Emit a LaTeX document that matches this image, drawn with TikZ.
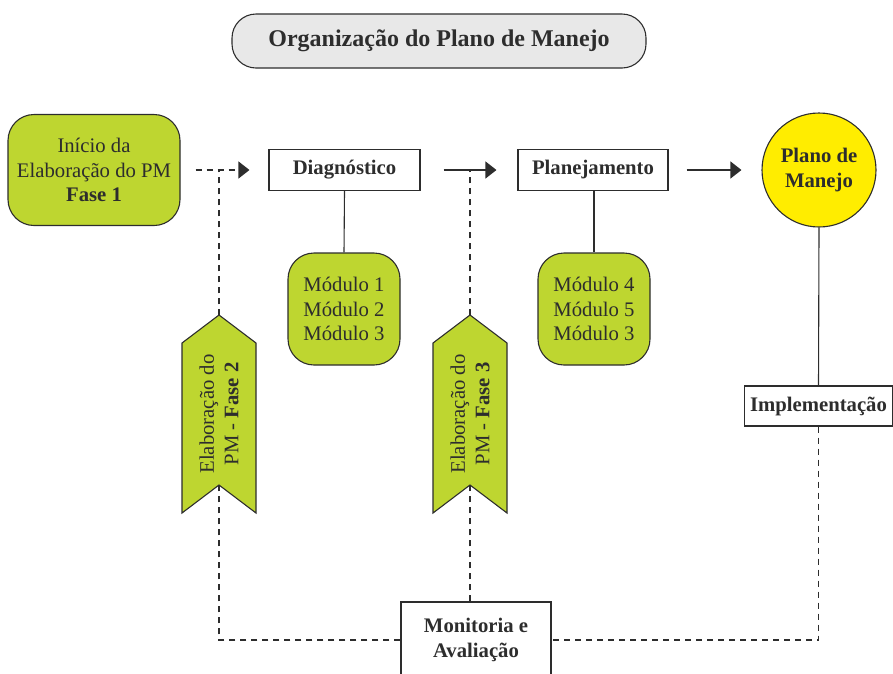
\documentclass[tikz,border=0pt]{standalone}
\usepackage{fontspec}
\setmainfont{Liberation Serif}
\usetikzlibrary{arrows.meta}
\definecolor{leaf}{RGB}{190,214,48}
\definecolor{sun}{RGB}{255,237,0}
\definecolor{titlegray}{RGB}{232,232,232}
\definecolor{edge}{RGB}{45,45,45}
\tikzset{
  txt/.style={font=\fontsize{20.7}{24.5}\selectfont, text=edge, align=center, inner sep=0pt},
  titlebox/.style={draw=edge, line width=1.1pt, fill=titlegray, rounded corners=24pt, minimum width=414pt, minimum height=54pt, font=\fontsize{24}{28}\selectfont\bfseries, text=edge, inner sep=0pt},
  greenbox/.style={txt, draw=edge, line width=1.1pt, fill=leaf, rounded corners=26pt},
  whitebox/.style={txt, draw=edge, line width=1.1pt, fill=white, font=\fontsize{20.7}{24.5}\selectfont\bfseries},
  chevron/.style={draw=edge, line width=1.1pt, fill=leaf},
  link/.style={draw=edge, line width=1.1pt},
  dashlink/.style={draw=edge, line width=1.1pt, dash pattern=on 6pt off 5pt},
  tip/.style={-{Triangle[length=11pt,width=17pt]}}
}
\begin{document}
\begin{tikzpicture}[x=1pt,y=-1pt]
\useasboundingbox (0,0) rectangle (893,673);
% nodes
\node[titlebox] (title) at (439,41) {Organização do Plano de Manejo};
\node[greenbox, minimum width=172pt, minimum height=111pt] (fase1) at (94,170) {Início da\\Elaboração do PM\\\textbf{Fase 1}};
\node[whitebox, minimum width=151pt, minimum height=41pt] (diag) at (344.5,170) {Diagnóstico};
\node[whitebox, minimum width=150pt, minimum height=41pt] (plan) at (593,170) {Planejamento};
\node[circle, draw=edge, line width=1.1pt, fill=sun, minimum size=114pt, inner sep=0pt, txt, font=\fontsize{20.7}{24.5}\selectfont\bfseries] (pm) at (819,170) {Plano de\\Manejo};
\node[greenbox, minimum width=112pt, minimum height=112pt] (mod1) at (344,309) {Módulo 1\\Módulo 2\\Módulo 3};
\node[greenbox, minimum width=112pt, minimum height=112pt] (mod2) at (594,309) {Módulo 4\\Módulo 5\\Módulo 3};
\node[whitebox, minimum width=148pt, minimum height=40pt] (impl) at (818.5,406) {Implementação};
\node[whitebox, minimum width=150pt, minimum height=76pt] (monit) at (476,640) {Monitoria e\\Avaliação};
% junction points
\coordinate (j2) at (219,170);
\coordinate (j3) at (470,170);
% connectors
\draw[dashlink] (monit.west) -| (j2);
\draw[dashlink] (monit.north -| j3) -- (j3);
\draw[dashlink] (impl.south) |- (monit.east);
\draw[dashlink, tip, shorten <=15pt, shorten >=19pt] (fase1.east) -- (diag.west);
\draw[link, tip, shorten <=23pt, shorten >=21pt] (diag.east) -- (plan.west);
\draw[link, tip, shorten <=18pt, shorten >=20pt] (plan.east) -- (pm.west);
\draw[link] (diag.south) -- (mod1.north);
\draw[link] (plan.south -| mod2.north) -- (mod2.north);
\draw[link] (pm.south) -- (impl.north);
% chevrons
\draw[chevron] (182,343) -- (219,315) -- (256,343) -- (256,513) -- (219,485) -- (182,513) -- cycle;
\draw[chevron] (433,343) -- (470,315) -- (507,343) -- (507,513) -- (470,485) -- (433,513) -- cycle;
\node[txt, rotate=90] (fase2) at (219,414) {Elaboração do\\PM - \textbf{Fase 2}};
\node[txt, rotate=90] (fase3) at (470,414) {Elaboração do\\PM - \textbf{Fase 3}};
\end{tikzpicture}
\end{document}
